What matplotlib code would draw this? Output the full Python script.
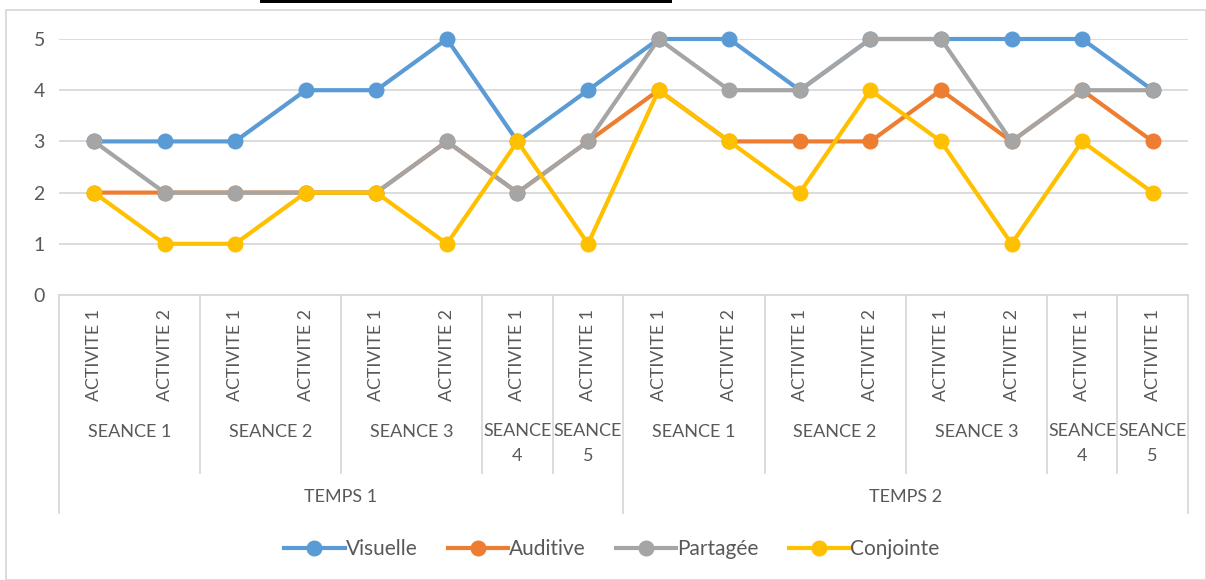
import numpy as np
import matplotlib
matplotlib.use("Agg")
import matplotlib.pyplot as plt
import matplotlib.transforms as mtransforms
from matplotlib.lines import Line2D
from matplotlib.patches import Rectangle

# category levels
activities = ["ACTIVITE 1", "ACTIVITE 2", "ACTIVITE 1", "ACTIVITE 2", "ACTIVITE 1", "ACTIVITE 2",
              "ACTIVITE 1", "ACTIVITE 1",
              "ACTIVITE 1", "ACTIVITE 2", "ACTIVITE 1", "ACTIVITE 2", "ACTIVITE 1", "ACTIVITE 2",
              "ACTIVITE 1", "ACTIVITE 1"]
seances = ["SEANCE 1", "SEANCE 2", "SEANCE 3", "SEANCE\n4", "SEANCE\n5",
           "SEANCE 1", "SEANCE 2", "SEANCE 3", "SEANCE\n4", "SEANCE\n5"]
seance_sizes = [2, 2, 2, 1, 1, 2, 2, 2, 1, 1]
temps = ["TEMPS 1", "TEMPS 2"]
temps_sizes = [8, 8]

# series
visuelle = [3, 3, 3, 4, 4, 5, 3, 4, 5, 5, 4, 5, 5, 5, 5, 4]
auditive = [2, 2, 2, 2, 2, 3, 2, 3, 4, 3, 3, 3, 4, 3, 4, 3]
partagee = [3, 2, 2, 2, 2, 3, 2, 3, 5, 4, 4, 5, 5, 3, 4, 4]
conjointe = [2, 1, 1, 2, 2, 1, 3, 1, 4, 3, 2, 4, 3, 1, 3, 2]

series = [("Visuelle", visuelle, "#5B9BD5"),
          ("Auditive", auditive, "#ED7D31"),
          ("Partagée", partagee, "#A5A5A5"),
          ("Conjointe", conjointe, "#FFC000")]

plt.rcParams["font.family"] = ["Lato", "DejaVu Sans"]
text_col = "#595959"
grid_col = "#D9D9D9"

W, H = 1206, 580
fig = plt.figure(figsize=(W / 100, H / 100), dpi=100)

def fy(py):
    return 1 - py / H

left_px, right_px, top_px, bot_px = 58.7, 1188, 39, 295
ax = fig.add_axes([left_px / W, fy(bot_px), (right_px - left_px) / W, (bot_px - top_px) / H])

x = np.arange(len(activities))
for name, vals, col in series:
    ax.plot(x, vals, color=col, lw=3, marker="o", ms=10.5, label=name, clip_on=False,
            solid_joinstyle="round")

ax.set_xlim(-0.5, len(activities) - 0.5)
ax.set_ylim(0, 5)
ax.set_yticks(range(6))
ax.yaxis.grid(True, color=grid_col, lw=1.3)
ax.set_axisbelow(True)
ax.tick_params(axis="y", length=0, pad=10, labelsize=14, labelcolor=text_col)
ax.set_xticks([])
for s in ["top", "right", "left"]:
    ax.spines[s].set_visible(False)
ax.spines["bottom"].set_color(grid_col)
ax.spines["bottom"].set_linewidth(1.3)

# multi-level category axis
tr = mtransforms.blended_transform_factory(ax.transData, fig.transFigure)

for i, lab in enumerate(activities):
    ax.text(i, fy(355), lab, transform=tr, rotation=90, ha="center", va="center",
            fontsize=12.8, color=text_col)

edges = np.concatenate([[0], np.cumsum(seance_sizes)])
for k, lab in enumerate(seances):
    c = (edges[k] + edges[k + 1]) / 2 - 0.5
    if "\n" in lab:
        ax.text(c, fy(423), lab, transform=tr, ha="center", va="top",
                fontsize=13, color=text_col, linespacing=1.7)
    else:
        ax.text(c, fy(432), lab, transform=tr, ha="center", va="center",
                fontsize=13, color=text_col)
for e in edges[1:-1]:
    if e in np.cumsum(temps_sizes):
        continue
    ax.add_line(Line2D([e - 0.5, e - 0.5], [fy(bot_px), fy(473)], transform=tr,
                       color=grid_col, lw=1.3, clip_on=False))

tedges = np.concatenate([[0], np.cumsum(temps_sizes)])
for k, lab in enumerate(temps):
    c = (tedges[k] + tedges[k + 1]) / 2 - 0.5
    ax.text(c, fy(497), lab, transform=tr, ha="center", va="center",
            fontsize=13, color=text_col)
for e in tedges:
    ax.add_line(Line2D([e - 0.5, e - 0.5], [fy(bot_px), fy(513)], transform=tr,
                       color=grid_col, lw=1.3, clip_on=False))

fig.legend(loc="center", bbox_to_anchor=(612 / W, fy(549)), ncol=4, frameon=False,
           fontsize=15, labelcolor=text_col, handlelength=2.9, handletextpad=0.05,
           columnspacing=1.45)

# outer chart frame and the bar at the top
fig.patches.append(Rectangle((6 / W, 0), (W - 6) / W, fy(10), transform=fig.transFigure,
                             fill=False, edgecolor=grid_col, lw=1.3))
fig.patches.append(Rectangle((260 / W, fy(3)), 412 / W, 3 / H, transform=fig.transFigure,
                             color="black", lw=0))

fig.savefig("out.png", dpi=100)
